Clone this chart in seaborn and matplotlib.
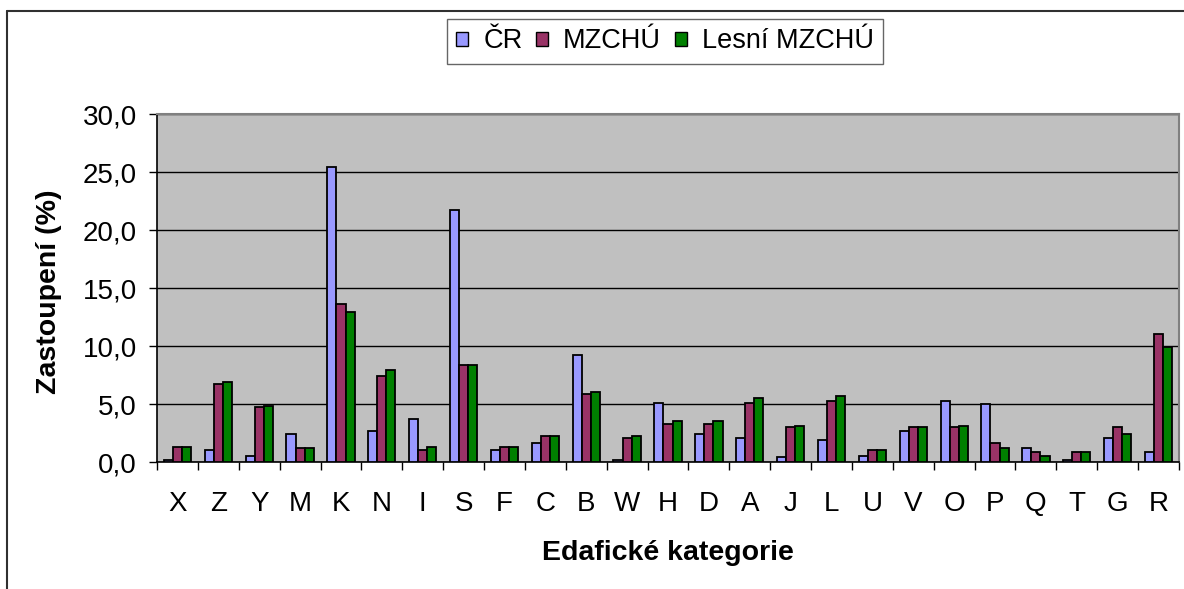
import matplotlib
matplotlib.use("Agg")
import matplotlib.pyplot as plt
from matplotlib.lines import Line2D
from matplotlib.ticker import FuncFormatter, FixedLocator
import seaborn as sns
import pandas as pd
import numpy as np

categories = ["X", "Z", "Y", "M", "K", "N", "I", "S", "F", "C", "B", "W", "H",
              "D", "A", "J", "L", "U", "V", "O", "P", "Q", "T", "G", "R"]
cr = [0.2, 1.0, 0.5, 2.4, 25.4, 2.7, 3.7, 21.7, 1.0, 1.6, 9.2, 0.2, 5.1,
      2.4, 2.1, 0.4, 1.9, 0.5, 2.7, 5.3, 5.0, 1.2, 0.2, 2.1, 0.9]
mzchu = [1.3, 6.7, 4.7, 1.2, 13.6, 7.4, 1.0, 8.4, 1.3, 2.2, 5.9, 2.1, 3.3,
         3.3, 5.1, 3.0, 5.3, 1.0, 3.0, 3.0, 1.6, 0.9, 0.9, 3.0, 11.0]
lesni = [1.3, 6.9, 4.8, 1.2, 12.9, 7.9, 1.3, 8.4, 1.3, 2.2, 6.0, 2.2, 3.5,
         3.5, 5.5, 3.1, 5.7, 1.0, 3.0, 3.1, 1.2, 0.5, 0.9, 2.4, 9.9]
series_names = ["ČR", "MZCHÚ", "Lesní MZCHÚ"]
colors = ["#9999FF", "#993366", "#008000"]
y_ticks = [0, 5, 10, 15, 20, 25, 30]

df = pd.DataFrame({
    "kat": categories * 3,
    "val": cr + mzchu + lesni,
    "serie": [series_names[0]] * len(categories) + [series_names[1]] * len(categories)
             + [series_names[2]] * len(categories),
})

sns.set_style("white")
plt.rcParams["font.family"] = ["Liberation Sans", "DejaVu Sans"]
plt.rcParams["text.color"] = "black"
plt.rcParams["axes.labelcolor"] = "black"
plt.rcParams["xtick.color"] = "black"
plt.rcParams["ytick.color"] = "black"

W, H = 1184, 589
fig = plt.figure(figsize=(W / 100, H / 100), dpi=100)
left, right, top, bottom = 157, 1179, 114, 462
ax = fig.add_axes([left / W, 1 - bottom / H, (right - left) / W, (bottom - top) / H])

sns.barplot(data=df, x="kat", y="val", hue="serie", order=categories,
            hue_order=series_names, palette=colors, width=0.667,
            edgecolor="black", linewidth=1.3, saturation=1, ax=ax, zorder=3)

ax.set_facecolor("#C0C0C0")
ax.set_xlim(-0.5, len(categories) - 0.5)
ax.set_ylim(0, 30)
ax.set_yticks(y_ticks)
ax.yaxis.set_major_formatter(FuncFormatter(lambda v, p: f"{v:.1f}".replace(".", ",")))
ax.grid(axis="y", color="black", linewidth=1.0, zorder=1)
ax.grid(axis="x", visible=False)
ax.set_axisbelow(True)

ax.xaxis.set_minor_locator(FixedLocator(np.arange(-0.5, len(categories), 1.0)))
ax.tick_params(axis="x", which="major", length=0, pad=21, labelsize=20,
               colors="black", labelcolor="black")
ax.tick_params(axis="x", which="minor", length=5.8, width=1.0, direction="out",
               color="black", bottom=True)
ax.tick_params(axis="y", which="major", length=5.8, width=1.0, direction="out",
               pad=8.6, labelsize=20, color="black", labelcolor="black", left=True)

for s in ["top", "right"]:
    ax.spines[s].set_color("#808080")
    ax.spines[s].set_linewidth(1.5)
for s in ["left", "bottom"]:
    ax.spines[s].set_color("black")
    ax.spines[s].set_linewidth(1.2)

ax.set_xlabel("Edafické kategorie", fontsize=20.5, fontweight="bold", color="black")
ax.xaxis.set_label_coords(0.5, -(560 - bottom) / (bottom - top))
ax.xaxis.label.set_va("baseline")
ax.set_ylabel("Zastoupení (%)", fontsize=20.5, fontweight="bold", color="black")
ax.yaxis.set_label_coords((56 - left) / (right - left), 0.49)
ax.yaxis.label.set_va("baseline")

ax.legend_.remove()
handles, labels = ax.get_legend_handles_labels()
leg = fig.legend(handles, labels, loc="center", ncol=3,
                 bbox_to_anchor=(665 / W, 1 - 41.5 / H), fontsize=19.5,
                 frameon=True, fancybox=False, shadow=False, edgecolor="#404040",
                 handlelength=0.45, handleheight=0.45, handletextpad=0.55,
                 columnspacing=0.5, borderpad=0.35, borderaxespad=0,
                 labelcolor="black")
leg.get_frame().set_linewidth(1.0)
for h in leg.legend_handles:
    h.set_edgecolor("black")
    h.set_linewidth(1.0)

# outer chart frame
fy = 1 - 11 / H
fx = 7 / W
fig.add_artist(Line2D([fx, 1.0], [fy, fy], transform=fig.transFigure,
                      color="#303030", linewidth=1.5))
fig.add_artist(Line2D([fx, fx], [0, fy], transform=fig.transFigure,
                      color="#303030", linewidth=1.5))

fig.savefig("out.png", dpi=100)
